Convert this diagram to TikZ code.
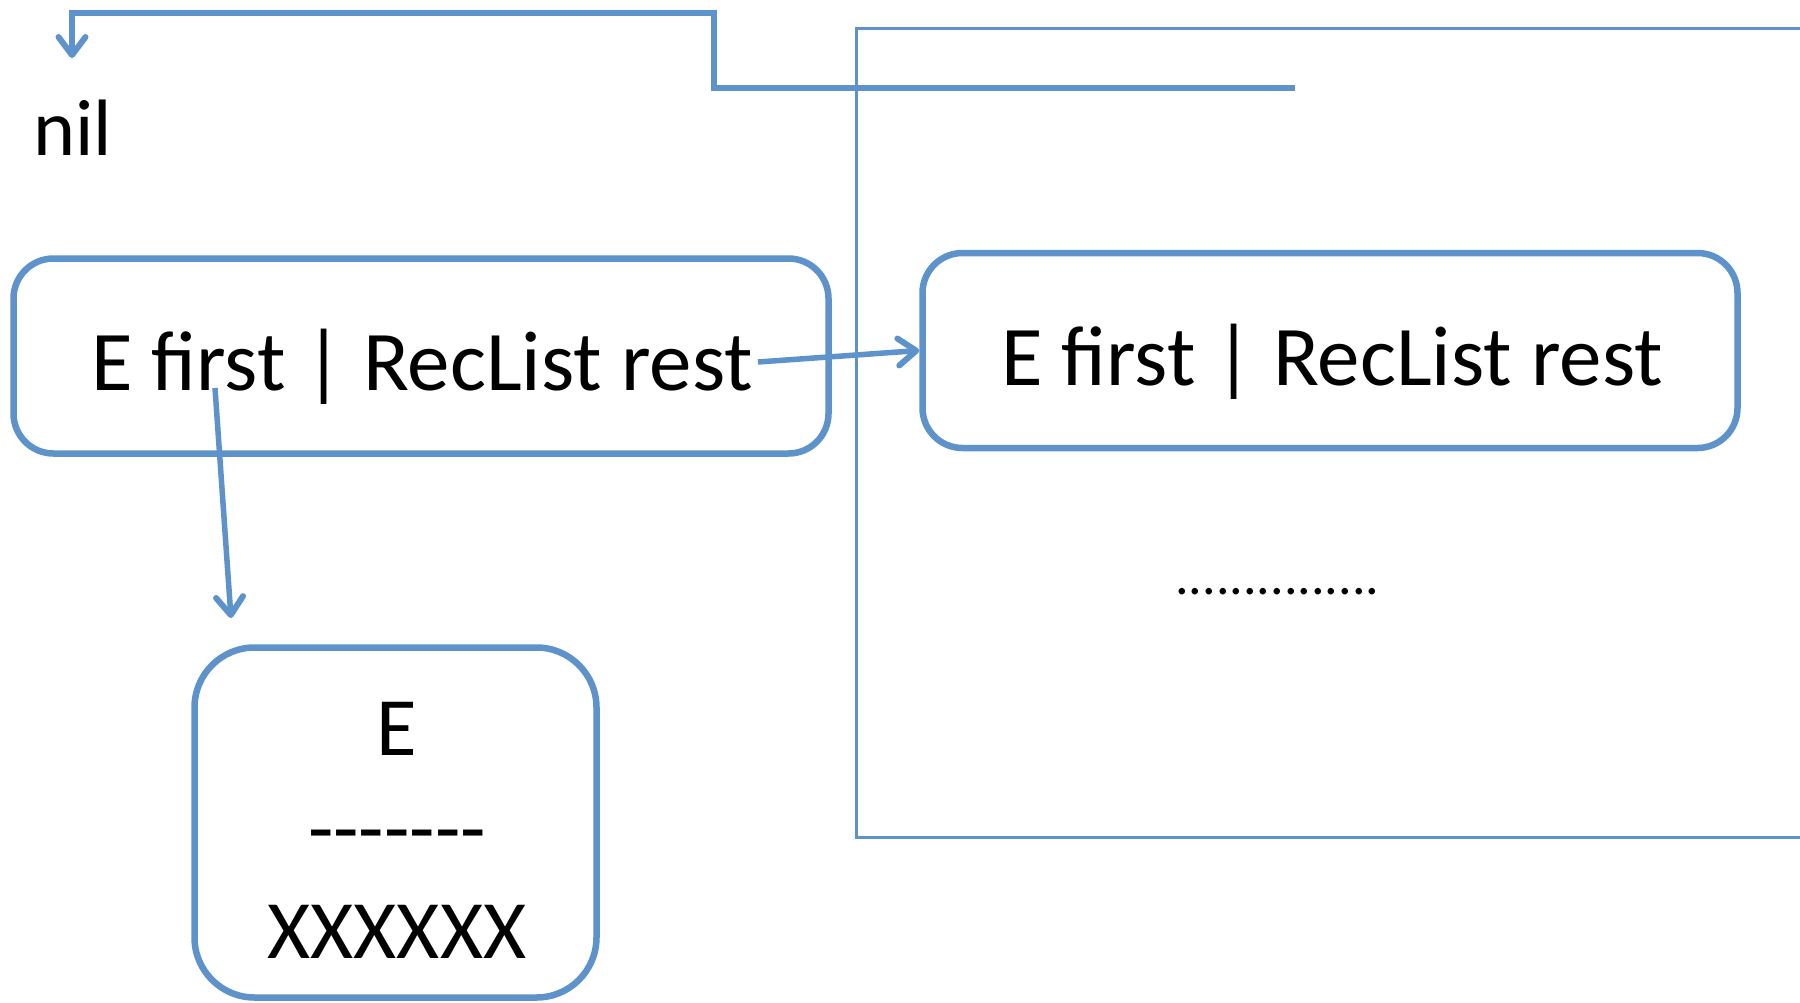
\documentclass[tikz,border=0pt]{standalone}
\usepackage{fontspec}
\setmainfont{Carlito}
\usetikzlibrary{arrows.meta,calc}
\definecolor{lineblue}{RGB}{94,146,202}
\newcommand{\hyph}{\mbox{-}}
\begin{document}
\begin{tikzpicture}[x=1pt,y=-1pt,
  cell/.style={draw=lineblue,line width=6.5pt,rounded corners=40pt,minimum width=815pt,minimum height=195pt,inner sep=0pt},
  elembox/.style={draw=lineblue,line width=6.5pt,rounded corners=60pt,minimum width=402pt,minimum height=350pt,inner sep=0pt},
  celltext/.style={anchor=base,inner sep=0pt,font=\fontsize{85}{100}\selectfont},
  tipstyle/.style={-{Straight Barb[length=18pt,width=27pt,line width=6pt,round]}},
  conn/.style={draw=lineblue,line width=5.5pt,tipstyle},
  topconn/.style={draw=lineblue,line width=6pt,tipstyle},
  frameline/.style={draw=lineblue,line width=3pt}
]
\useasboundingbox (0,0) rectangle (1800,1002);
% frame of the rest of the list
\draw[frameline] (1815,28) -- (856,28) -- (856,837) -- (1815,837);
% nodes
\node[celltext,font=\fontsize{80}{96}\selectfont] (nil) at (73,155) {nil};
\node[cell] (b1) at (421,356) {};
\node[celltext] (t1) at (422,390) {E first | RecList rest};
\node[cell] (b2) at (1330,350.5) {};
\node[celltext] (t2) at (1332,385) {E first | RecList rest};
\node[elembox] (b3) at (395.5,822.5) {};
\node[inner sep=0pt,align=center,font=\fontsize{83}{101.5}\selectfont] (t3) at (397,830) {E\\\hyph\hyph\hyph\hyph\hyph\hyph\hyph\\XXXXXX};
\node[anchor=base,inner sep=0pt,font=\fontsize{54}{60}\selectfont] (dots) at (1277.5,594) {...............};
% connector ends
\coordinate (c0) at (1295,88);
\coordinate (c1) at (72,58);
\coordinate (p1) at (215,388);
\coordinate (e1) at (231,618);
\coordinate (p2) at (758,362);
% connectors
\draw[topconn] (c0) -- (714,88) |- (72,13) -- (c1);
\draw[conn] (p1) -- (e1);
\draw[conn] (p2) -- (b2.west);
\end{tikzpicture}
\end{document}
